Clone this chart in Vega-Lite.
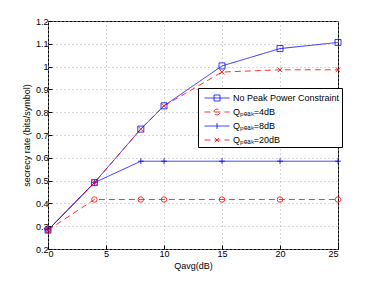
{
  "$schema": "https://vega.github.io/schema/vega-lite/v6.json",
  "width": 290,
  "height": 228,
  "autosize": "none",
  "padding": {"left": 48, "top": 21, "right": 36, "bottom": 32},
  "background": "white",
  "config": {
    "font": "Liberation Sans",
    "view": {"stroke": "black", "strokeWidth": 1},
    "axis": {
      "domain": false,
      "grid": true,
      "gridColor": "#b0b0b0",
      "gridDash": [1, 3],
      "gridWidth": 1,
      "tickColor": "black",
      "tickSize": -4,
      "labelFontSize": 9,
      "labelColor": "black",
      "titleFontSize": 9,
      "titleFontWeight": "normal",
      "titleColor": "black",
      "labelPadding": 4
    }
  },
  "data": {
    "values": [
      {"series": "No Peak Power Constraint", "x": 0, "y": 0.283},
      {"series": "No Peak Power Constraint", "x": 4, "y": 0.491},
      {"series": "No Peak Power Constraint", "x": 8, "y": 0.726},
      {"series": "No Peak Power Constraint", "x": 10, "y": 0.828},
      {"series": "No Peak Power Constraint", "x": 15, "y": 1.003},
      {"series": "No Peak Power Constraint", "x": 20, "y": 1.079},
      {"series": "No Peak Power Constraint", "x": 25, "y": 1.106},
      {"series": "Qₚₑₐₖ=4dB", "x": 0, "y": 0.283},
      {"series": "Qₚₑₐₖ=4dB", "x": 4, "y": 0.417},
      {"series": "Qₚₑₐₖ=4dB", "x": 8, "y": 0.417},
      {"series": "Qₚₑₐₖ=4dB", "x": 10, "y": 0.417},
      {"series": "Qₚₑₐₖ=4dB", "x": 15, "y": 0.417},
      {"series": "Qₚₑₐₖ=4dB", "x": 20, "y": 0.417},
      {"series": "Qₚₑₐₖ=4dB", "x": 25, "y": 0.417},
      {"series": "Qₚₑₐₖ=8dB", "x": 0, "y": 0.283},
      {"series": "Qₚₑₐₖ=8dB", "x": 4, "y": 0.491},
      {"series": "Qₚₑₐₖ=8dB", "x": 8, "y": 0.585},
      {"series": "Qₚₑₐₖ=8dB", "x": 10, "y": 0.585},
      {"series": "Qₚₑₐₖ=8dB", "x": 15, "y": 0.585},
      {"series": "Qₚₑₐₖ=8dB", "x": 20, "y": 0.585},
      {"series": "Qₚₑₐₖ=8dB", "x": 25, "y": 0.585},
      {"series": "Qₚₑₐₖ=20dB", "x": 0, "y": 0.283},
      {"series": "Qₚₑₐₖ=20dB", "x": 4, "y": 0.491},
      {"series": "Qₚₑₐₖ=20dB", "x": 8, "y": 0.726},
      {"series": "Qₚₑₐₖ=20dB", "x": 10, "y": 0.828},
      {"series": "Qₚₑₐₖ=20dB", "x": 15, "y": 0.976},
      {"series": "Qₚₑₐₖ=20dB", "x": 20, "y": 0.986},
      {"series": "Qₚₑₐₖ=20dB", "x": 25, "y": 0.986}
    ]
  },
  "encoding": {
    "x": {
      "field": "x",
      "type": "quantitative",
      "scale": {"domain": [0, 25], "nice": false},
      "axis": {"values": [0, 5, 10, 15, 20, 25], "title": "Qavg(dB)", "titlePadding": 3}
    },
    "y": {
      "field": "y",
      "type": "quantitative",
      "scale": {"domain": [0.2, 1.2], "nice": false, "zero": false},
      "axis": {
        "values": [0.2, 0.3, 0.4, 0.5, 0.6, 0.7, 0.8, 0.9, 1.0, 1.1, 1.2],
        "format": "~g",
        "title": "secrecy rate (bits/symbol)",
        "titlePadding": 4
      }
    },
    "color": {
      "field": "series",
      "type": "nominal",
      "sort": null,
      "scale": {
        "domain": ["No Peak Power Constraint", "Qₚₑₐₖ=4dB", "Qₚₑₐₖ=8dB", "Qₚₑₐₖ=20dB"],
        "range": ["#0000ff", "#ff0000", "#0000ff", "#ff0000"]
      },
      "legend": {
        "title": null,
        "orient": "none",
        "legendX": 150,
        "legendY": 67,
        "symbolSize": 225,
        "symbolStrokeWidth": 0.8,
        "symbolFillColor": "transparent",
        "symbolOpacity": 1,
        "labelFontSize": 9,
        "labelColor": "black",
        "labelOffset": 17,
        "strokeColor": "black",
        "fillColor": "white",
        "padding": 2,
        "rowPadding": 1
      }
    }
  },
  "layer": [
    {
      "mark": {"type": "line", "strokeWidth": 0.8},
      "encoding": {
        "strokeDash": {
          "field": "series",
          "type": "nominal",
          "sort": null,
          "scale": {
            "domain": ["No Peak Power Constraint", "Qₚₑₐₖ=4dB", "Qₚₑₐₖ=8dB", "Qₚₑₐₖ=20dB"],
            "range": [[1, 0], [6, 4], [1, 0], [6, 4]]
          },
          "legend": null
        }
      }
    },
    {
      "mark": {"type": "point", "filled": false, "strokeWidth": 0.8, "size": 1, "opacity": 0},
      "encoding": {
        "shape": {
          "field": "series",
          "type": "nominal",
          "sort": null,
          "scale": {
            "domain": ["No Peak Power Constraint", "Qₚₑₐₖ=4dB", "Qₚₑₐₖ=8dB", "Qₚₑₐₖ=20dB"],
            "range": [
              "M-0.47,0H2.87M0.8,-0.4H1.6V0.4H0.8Z",
              "M-0.47,0H2.87M0.8,0A0.4,0.4,0,1,1,1.6,0A0.4,0.4,0,1,1,0.8,0",
              "M-0.47,0H2.87M1.2,-0.4V0.4",
              "M-0.47,0H2.87M0.9,-0.3L1.5,0.3M0.9,0.3L1.5,-0.3"
            ]
          },
          "legend": null
        }
      }
    },
    {
      "transform": [{"filter": "datum.series === 'No Peak Power Constraint'"}],
      "mark": {"type": "point", "filled": false, "strokeWidth": 0.8, "size": 36, "opacity": 1, "shape": "square"}
    },
    {
      "transform": [{"filter": "datum.series === 'Qₚₑₐₖ=4dB'"}],
      "mark": {"type": "point", "filled": false, "strokeWidth": 0.8, "size": 30, "opacity": 1, "shape": "circle"}
    },
    {
      "transform": [{"filter": "datum.series === 'Qₚₑₐₖ=8dB'"}],
      "mark": {"type": "point", "filled": false, "strokeWidth": 0.8, "size": 36, "opacity": 1, "shape": "M-1,0L1,0M0,-1L0,1"}
    },
    {
      "transform": [{"filter": "datum.series === 'Qₚₑₐₖ=20dB'"}],
      "mark": {"type": "point", "filled": false, "strokeWidth": 0.8, "size": 36, "opacity": 1, "shape": "M-0.8,-0.8L0.8,0.8M-0.8,0.8L0.8,-0.8"}
    }
  ]
}
